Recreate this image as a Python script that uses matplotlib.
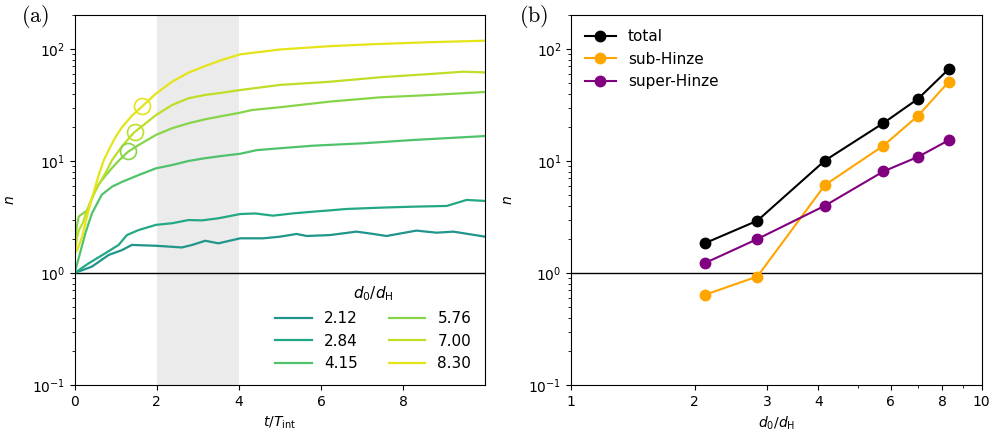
import numpy as np
import matplotlib
matplotlib.use("Agg")
import matplotlib.pyplot as plt
from matplotlib.ticker import NullFormatter


# panel (a): number of fragments vs time

labels_a = ["2.12", "2.84", "4.15", "5.76", "7.00", "8.30"]

t_212 = [0, 0.42, 0.83, 1.15, 1.39, 1.98, 2.3, 2.61, 2.86, 3.18, 3.5, 4.03,
         4.59, 5.0, 5.4, 5.65, 6.21, 6.86, 7.2, 7.59, 8.32, 8.81, 9.22, 9.99]
n_212 = [1.0, 1.14, 1.45, 1.6, 1.78, 1.75, 1.72, 1.69, 1.78, 1.94, 1.84, 2.04,
         2.04, 2.11, 2.23, 2.14, 2.18, 2.34, 2.25, 2.14, 2.39, 2.29, 2.34, 2.11]

t_284 = [0, 0.34, 0.745, 1.07, 1.27, 1.56, 1.98, 2.37, 2.77, 3.1, 3.5, 4.03,
         4.4, 4.83, 5.3, 5.81, 6.2, 6.62, 7.43, 8.24, 8.8, 9.06, 9.54, 9.99]
n_284 = [1.0, 1.22, 1.5, 1.78, 2.18, 2.42, 2.69, 2.78, 2.97, 2.95, 3.08, 3.36,
         3.4, 3.25, 3.4, 3.53, 3.62, 3.73, 3.83, 3.91, 3.95, 3.97, 4.49, 4.4]

t_415 = [0, 0.26, 0.42, 0.66, 0.91, 1.15, 1.56, 1.98, 2.37, 2.77, 3.18, 3.59,
         4.03, 4.43, 5.0, 5.81, 7.03, 8.24, 9.99]
n_415 = [1.0, 2.26, 3.4, 5.0, 5.9, 6.5, 7.5, 8.6, 9.2, 10.0, 10.6, 11.1,
         11.6, 12.5, 13.0, 13.7, 14.4, 15.4, 16.7]

t_576 = [0, 0.05, 0.1, 0.2, 0.3, 0.4, 0.5, 0.6, 0.75, 0.9, 1.1, 1.3, 1.56,
         1.98, 2.37, 2.77, 3.18, 3.59, 4.03, 4.31, 5.0, 6.21, 7.43, 8.65, 9.99]
n_576 = [1.7, 2.6, 3.2, 3.4, 3.6, 4.4, 5.4, 6.3, 7.4, 8.6, 10.3, 12.1, 13.9,
         17.1, 19.6, 21.7, 23.6, 25.2, 27.0, 28.5, 30.2, 33.9, 37.0, 38.8, 41.3]

t_700 = [0, 0.05, 0.1, 0.2, 0.3, 0.4, 0.5, 0.6, 0.75, 0.91, 1.15, 1.44, 1.98,
         2.37, 2.77, 3.18, 3.59, 4.03, 5.0, 6.21, 7.43, 8.65, 9.46, 9.99]
n_700 = [1.5, 2.0, 2.4, 2.8, 3.6, 4.5, 5.4, 6.3, 7.8, 10.2, 13.5, 17.9, 25.7,
         31.6, 36.3, 38.9, 40.7, 43.0, 47.8, 51.0, 55.9, 59.8, 62.7, 61.8]

t_830 = [0, 0.06, 0.18, 0.34, 0.46, 0.58, 0.71, 0.85, 1.0, 1.15, 1.4, 1.655,
         1.98, 2.37, 2.77, 3.18, 3.59, 4.03, 5.0, 6.21, 7.43, 8.65, 9.99]
n_830 = [1.5, 1.6, 2.1, 3.65, 5.2, 7.4, 10.2, 13.0, 16.5, 20.0, 25.5, 31.0,
         40.0, 51.0, 61.5, 70.5, 80.0, 89.6, 99.0, 106.0, 111.0, 115.0, 118.6]

series_t = [t_212, t_284, t_415, t_576, t_700, t_830]
series_n = [n_212, n_284, n_415, n_576, n_700, n_830]

# open circles marking a point on the three largest cases
circ_t = [1.30, 1.47, 1.65]
circ_n = [12.3, 18.0, 31.0]

# panel (b): final counts
d_ratio = [2.12, 2.84, 4.15, 5.76, 7.00, 8.30]
n_total = [1.85, 2.93, 10.1, 21.8, 36.0, 65.8]
n_sub = [0.64, 0.93, 6.1, 13.7, 25.4, 50.7]
n_super = [1.23, 2.01, 3.99, 8.07, 10.9, 15.3]

plt.rcParams["font.size"] = 10

colors = plt.cm.viridis([0.52, 0.6, 0.72, 0.82, 0.9, 0.96])

fig = plt.figure(figsize=(9.97, 4.33), dpi=100)
ax1 = fig.add_axes([0.0749, 0.1109, 0.4116, 0.8538])
ax2 = fig.add_axes([0.5730, 0.1109, 0.4117, 0.8538])

# (a)
ax1.axvspan(2, 4, color="#ebebeb", lw=0, zorder=0)
ax1.axhline(1, color="k", lw=1.0, zorder=1)
for tt, nn, c, lab in zip(series_t, series_n, colors, labels_a):
    ax1.plot(tt, nn, color=c, lw=1.6, label=lab, zorder=2)
for tc, nc, c in zip(circ_t, circ_n, colors[3:]):
    ax1.plot(tc, nc, "o", ms=11.5, mfc="none", mec=c, mew=1.2, zorder=3)
ax1.set_yscale("log")
ax1.set_ylim(0.1, 200)
ax1.set_xlim(0, 9.99)
ax1.set_xticks([0, 2, 4, 6, 8])
ax1.set_xlabel(r"$t/T_\mathrm{int}$")
ax1.set_ylabel(r"$n$")
ax1.yaxis.set_label_coords(-0.14, 0.5)
ax1.legend(title=r"$d_0/d_\mathrm{H}$", ncol=2, loc="lower right",
           frameon=False, handlelength=2.4, fontsize=11, title_fontsize=11)

# (b)
ax2.axhline(1, color="k", lw=1.0)
ax2.plot(d_ratio, n_total, "o-", color="k", ms=7.5, lw=1.5, label="total")
ax2.plot(d_ratio, n_sub, "o-", color="orange", ms=7.5, lw=1.5, label="sub-Hinze")
ax2.plot(d_ratio, n_super, "o-", color="purple", ms=7.5, lw=1.5, label="super-Hinze")
ax2.set_xscale("log")
ax2.set_yscale("log")
ax2.set_xlim(1, 10)
ax2.set_ylim(0.1, 200)
ax2.set_xticks([1, 2, 3, 4, 6, 8, 10], labels=["1", "2", "3", "4", "6", "8", "10"])
ax2.xaxis.set_minor_formatter(NullFormatter())
ax2.set_xlabel(r"$d_0/d_\mathrm{H}$")
ax2.set_ylabel(r"$n$")
ax2.yaxis.set_label_coords(-0.137, 0.5)
ax2.legend(loc="upper left", frameon=False, fontsize=11)

fig.text(0.035, 0.962, r"$\mathrm{(a)}$", ha="center", va="center", fontsize=16,
         math_fontfamily="cm")
fig.text(0.535, 0.962, r"$\mathrm{(b)}$", ha="center", va="center", fontsize=16,
         math_fontfamily="cm")

fig.savefig("out.png", dpi=100)
